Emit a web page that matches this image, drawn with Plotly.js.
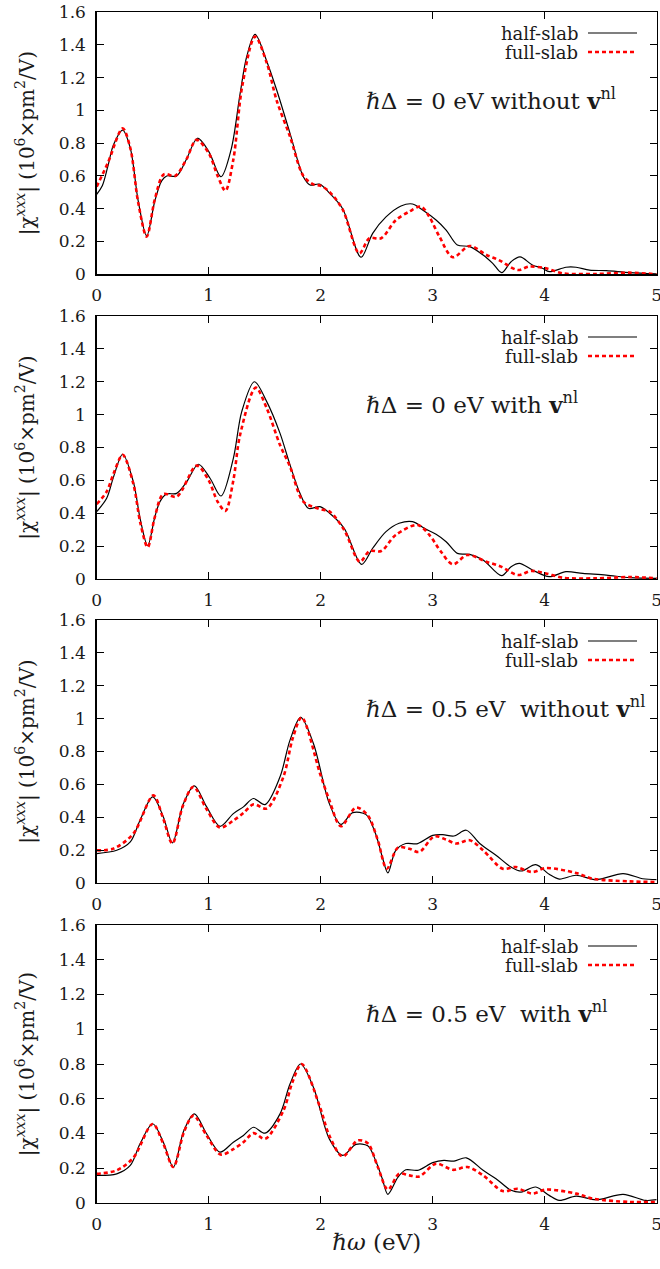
<!DOCTYPE html>
<html>
<head>
<meta charset="utf-8">
<script src="https://cdn.plot.ly/plotly-3.0.1.min.js"></script>
<style>html,body{margin:0;padding:0;background:#fff;font-family:"DejaVu Serif",serif;}</style>
</head>
<body>
<div id="chart" style="width:660px;height:1269px;"></div>
<script>
// ---- Data ----
const seriesNames = ["half-slab", "full-slab"];
const panelLabels = [
  "<i>ℏ</i>Δ = 0 eV without <b>v</b><sup>nl</sup>",
  "<i>ℏ</i>Δ = 0 eV with <b>v</b><sup>nl</sup>",
  "<i>ℏ</i>Δ = 0.5 eV  without <b>v</b><sup>nl</sup>",
  "<i>ℏ</i>Δ = 0.5 eV  with <b>v</b><sup>nl</sup>"
];
const xTicks = [0, 1, 2, 3, 4, 5];
const yTicks = [0, 0.2, 0.4, 0.6, 0.8, 1, 1.2, 1.4, 1.6];

// Panel 1: ħΔ = 0 eV without v^nl
const p1HalfX = [0,0.05,0.1,0.15,0.232,0.3,0.37,0.446,0.52,0.58,0.625,0.714,0.8,0.9,1.0,1.11,1.2,1.28,1.34,1.414,1.518,1.607,1.726,1.845,1.905,1.99,2.08,2.196,2.36,2.464,2.583,2.717,2.82,2.91,3.03,3.12,3.22,3.33,3.45,3.536,3.616,3.7,3.78,3.89,3.98,4.04,4.19,4.28,4.4,4.55,4.76,5.0];
const p1HalfY = [0.488,0.54,0.66,0.79,0.88,0.77,0.45,0.234,0.45,0.57,0.6,0.6,0.7,0.83,0.75,0.595,0.76,1.10,1.33,1.463,1.30,1.124,0.86,0.595,0.545,0.55,0.494,0.40,0.104,0.25,0.35,0.417,0.429,0.392,0.331,0.27,0.179,0.169,0.118,0.067,0.01,0.077,0.106,0.057,0.037,0.016,0.043,0.043,0.026,0.022,0.01,0.002];
const p1FullX = [0,0.1,0.232,0.3,0.37,0.446,0.52,0.6,0.7,0.8,0.89,1.0,1.08,1.149,1.22,1.3,1.414,1.518,1.607,1.726,1.845,1.93,2.0,2.077,2.196,2.345,2.435,2.54,2.67,2.79,2.896,2.97,3.06,3.18,3.33,3.48,3.59,3.76,3.86,4.01,4.16,4.46,4.76,5.0];
const p1FullY = [0.535,0.68,0.89,0.77,0.44,0.23,0.46,0.61,0.6,0.7,0.82,0.74,0.6,0.51,0.70,1.15,1.45,1.29,1.06,0.84,0.60,0.55,0.54,0.504,0.396,0.128,0.22,0.22,0.33,0.382,0.413,0.35,0.23,0.104,0.173,0.118,0.087,0.026,0.047,0.037,0.006,0.002,0.01,0.0];

// Panel 2: ħΔ = 0 eV with v^nl
const p2HalfX = [0,0.089,0.15,0.232,0.327,0.39,0.455,0.52,0.565,0.625,0.714,0.804,0.908,1.012,1.11,1.22,1.295,1.408,1.518,1.637,1.726,1.815,1.89,1.994,2.08,2.21,2.366,2.464,2.583,2.7,2.82,2.925,3.03,3.12,3.22,3.33,3.45,3.616,3.7,3.774,3.89,4.04,4.19,4.34,4.55,4.76,5.0];
const p2HalfY = [0.41,0.491,0.62,0.759,0.592,0.36,0.203,0.38,0.471,0.517,0.521,0.592,0.698,0.613,0.505,0.734,1.018,1.20,1.079,0.886,0.694,0.521,0.43,0.44,0.40,0.308,0.089,0.187,0.288,0.339,0.349,0.308,0.272,0.227,0.156,0.15,0.116,0.02,0.075,0.095,0.055,0.014,0.045,0.034,0.024,0.008,0.004];
const p2FullX = [0,0.089,0.15,0.232,0.327,0.39,0.455,0.52,0.595,0.714,0.893,1.0,1.08,1.149,1.22,1.28,1.42,1.518,1.637,1.726,1.845,1.994,2.08,2.21,2.35,2.435,2.54,2.67,2.866,2.97,3.074,3.18,3.31,3.48,3.61,3.76,3.88,4.01,4.16,4.46,4.76,5.0];
const p2FullY = [0.456,0.531,0.64,0.755,0.58,0.34,0.193,0.38,0.517,0.501,0.69,0.60,0.47,0.414,0.60,0.876,1.164,1.039,0.815,0.684,0.471,0.426,0.41,0.298,0.105,0.17,0.17,0.268,0.329,0.268,0.166,0.089,0.146,0.105,0.075,0.024,0.049,0.034,0.008,0.004,0.012,0.004];

// Panel 3: ħΔ = 0.5 eV without v^nl
const p3HalfX = [0,0.179,0.3,0.387,0.5,0.595,0.676,0.774,0.872,0.982,1.101,1.22,1.31,1.399,1.503,1.637,1.726,1.821,1.935,2.077,2.18,2.286,2.405,2.49,2.55,2.6,2.67,2.76,2.866,3.0,3.09,3.19,3.3,3.42,3.565,3.7,3.79,3.92,4.04,4.13,4.28,4.46,4.7,4.875,5.0];
const p3HalfY = [0.179,0.199,0.25,0.382,0.524,0.402,0.244,0.483,0.591,0.463,0.345,0.422,0.463,0.514,0.477,0.646,0.869,1.007,0.849,0.483,0.357,0.428,0.416,0.30,0.158,0.061,0.199,0.24,0.24,0.29,0.294,0.286,0.321,0.24,0.169,0.097,0.073,0.112,0.053,0.024,0.047,0.02,0.057,0.026,0.02];
const p3FullX = [0,0.149,0.327,0.506,0.59,0.676,0.77,0.863,0.98,1.1,1.22,1.31,1.4,1.518,1.667,1.75,1.83,1.994,2.077,2.18,2.315,2.42,2.51,2.59,2.69,2.79,2.88,3.015,3.12,3.21,3.33,3.45,3.625,3.74,3.89,4.01,4.28,4.43,4.76,5.0];
const p3FullY = [0.199,0.209,0.30,0.533,0.40,0.24,0.47,0.585,0.45,0.337,0.38,0.426,0.479,0.453,0.646,0.88,1.007,0.666,0.504,0.345,0.459,0.412,0.26,0.087,0.215,0.209,0.189,0.284,0.264,0.24,0.26,0.199,0.087,0.097,0.067,0.091,0.061,0.026,0.01,0.006];

// Panel 4: ħΔ = 0.5 eV with v^nl
const p4HalfX = [0,0.179,0.3,0.387,0.5,0.595,0.684,0.78,0.872,0.98,1.1,1.22,1.31,1.4,1.503,1.637,1.726,1.82,1.935,2.077,2.196,2.315,2.42,2.49,2.55,2.6,2.69,2.76,2.866,3.0,3.1,3.19,3.3,3.45,3.565,3.7,3.79,3.92,4.04,4.13,4.28,4.46,4.7,4.9,5.0];
const p4HalfY = [0.159,0.168,0.216,0.341,0.456,0.35,0.207,0.42,0.513,0.40,0.293,0.35,0.389,0.436,0.402,0.513,0.685,0.80,0.666,0.369,0.274,0.337,0.329,0.245,0.14,0.05,0.149,0.191,0.188,0.232,0.245,0.241,0.26,0.188,0.14,0.073,0.063,0.092,0.044,0.015,0.04,0.019,0.05,0.015,0.019];
const p4FullX = [0,0.179,0.327,0.5,0.595,0.684,0.78,0.863,0.98,1.107,1.22,1.31,1.4,1.503,1.667,1.75,1.83,1.994,2.077,2.196,2.33,2.42,2.51,2.6,2.7,2.79,2.88,3.03,3.18,3.31,3.45,3.625,3.76,3.89,4.01,4.28,4.43,4.76,5.0];
const p4FullY = [0.168,0.188,0.26,0.455,0.34,0.207,0.41,0.503,0.39,0.279,0.31,0.35,0.402,0.369,0.532,0.70,0.80,0.551,0.388,0.268,0.36,0.344,0.207,0.077,0.168,0.159,0.153,0.226,0.191,0.207,0.159,0.069,0.082,0.054,0.077,0.054,0.025,0.006,0.006];

const halfX = [p1HalfX, p2HalfX, p3HalfX, p4HalfX];
const halfY = [p1HalfY, p2HalfY, p3HalfY, p4HalfY];
const fullX = [p1FullX, p2FullX, p3FullX, p4FullX];
const fullY = [p1FullY, p2FullY, p3FullY, p4FullY];

// ---- Layout geometry (pixels) ----
const W = 660, H = 1269;
const FONT = "DejaVu Serif";
const TXT = '#1a1a1a';
const plotLeft = 96.7, plotRight = 656.7;
const panelTop = [12, 316, 620, 925];
const panelBottom = [274.3, 579, 883, 1203];
const px = v => v / W;
const py = v => 1 - v / H;

const data = [];
const layout = {
  width: W, height: H,
  margin: {l: 0, r: 0, t: 0, b: 0},
  paper_bgcolor: '#fff', plot_bgcolor: '#fff',
  showlegend: false,
  font: {family: FONT, color: TXT, size: 17},
  annotations: [], shapes: []
};

const redDash = '4px,3px';

for (let i = 0; i < 4; i++) {
  const s = i === 0 ? '' : String(i + 1);
  data.push({
    x: halfX[i], y: halfY[i], type: 'scatter', mode: 'lines',
    name: seriesNames[0], xaxis: 'x' + s, yaxis: 'y' + s,
    line: {color: '#000', width: 1.2, shape: 'spline', smoothing: 0.9}
  });
  data.push({
    x: fullX[i], y: fullY[i], type: 'scatter', mode: 'lines',
    name: seriesNames[1], xaxis: 'x' + s, yaxis: 'y' + s,
    line: {color: '#ff0000', width: 2.6, shape: 'spline', smoothing: 0.9, dash: redDash}
  });
  const axCommon = {
    showline: true, linecolor: '#000', linewidth: 1.4, mirror: 'ticks',
    ticks: 'inside', ticklen: 7, tickwidth: 1, tickcolor: '#000',
    showgrid: false, zeroline: false, automargin: false,
    ticklabeloverflow: 'allow',
    tickfont: {family: FONT, size: 17, color: TXT}
  };
  layout['xaxis' + s] = Object.assign({}, axCommon, {
    domain: [px(plotLeft), px(plotRight)], range: [0, 5], anchor: 'y' + s,
    tickvals: xTicks, ticktext: xTicks.map(String), ticklabelstandoff: 5,
    title: i === 3 ? {text: '<i>ℏω</i> (eV)', font: {family: FONT, size: 23, color: TXT}, standoff: 1} : {text: ''}
  });
  layout['yaxis' + s] = Object.assign({}, axCommon, {
    domain: [py(panelBottom[i]), py(panelTop[i])], range: [0, 1.6], anchor: 'x' + s,
    tickvals: yTicks, ticktext: yTicks.map(String), ticklabelstandoff: 6,
    title: {text: '|χ<sup><i>xxx</i></sup>| (10<sup>6</sup>×pm<sup>2</sup>/V)', font: {family: FONT, size: 20, color: TXT}, standoff: 19}
  });
  // legend (text right-aligned, sample line to the right)
  const yHalf = panelTop[i] + 21, yFull = panelTop[i] + 40;
  layout.annotations.push({xref: 'paper', yref: 'paper', x: px(579), y: py(yHalf), xanchor: 'right', yanchor: 'middle',
    text: seriesNames[0], showarrow: false, borderpad: 0, height: 18, font: {family: FONT, size: 18, color: TXT}});
  layout.annotations.push({xref: 'paper', yref: 'paper', x: px(579), y: py(yFull), xanchor: 'right', yanchor: 'middle',
    text: seriesNames[1], showarrow: false, borderpad: 0, height: 18, font: {family: FONT, size: 18, color: TXT}});
  layout.shapes.push({type: 'line', xref: 'paper', yref: 'paper', x0: px(588), x1: px(637), y0: py(yHalf), y1: py(yHalf),
    line: {color: '#000', width: 1.2}});
  layout.shapes.push({type: 'line', xref: 'paper', yref: 'paper', x0: px(588), x1: px(637), y0: py(yFull), y1: py(yFull),
    line: {color: '#ff0000', width: 2.6, dash: redDash}});
  // panel label
  layout.annotations.push({xref: 'paper', yref: 'paper', x: px(364), y: py(panelTop[i] + 87), xanchor: 'left', yanchor: 'middle',
    text: panelLabels[i], showarrow: false, font: {family: FONT, size: 23, color: TXT}});
}

Plotly.newPlot('chart', data, layout, {staticPlot: true, displayModeBar: false});
</script>
</body>
</html>
